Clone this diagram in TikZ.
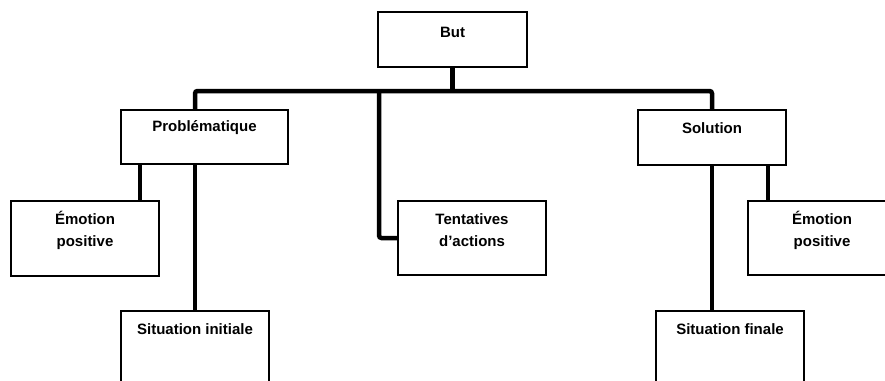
\documentclass[tikz,border=0pt]{standalone}
\usepackage{fontspec}
\setmainfont{Liberation Sans}
\begin{document}
\begin{tikzpicture}[x=1pt,y=-1pt,
  box/.style={draw=black, line width=1.3pt, fill=white, inner sep=0pt, minimum width=148pt},
  lbl/.style={font=\fontsize{15}{22}\selectfont\bfseries, align=center, inner sep=0pt},
  conn/.style={draw=black, line width=4.5pt, rounded corners=2.5pt}]
\path[use as bounding box, clip] (0,0) rectangle (885,380);
\fill[white] (0,0) rectangle (885,380);
% boxes
\node[box, minimum width=149pt, minimum height=55pt] (but) at (452.5,39.5) {};
\node[box, minimum width=167pt, minimum height=54pt] (prob) at (204.5,137) {};
\node[box, minimum height=55pt] (sol) at (712,137.5) {};
\node[box, minimum height=75pt] (emoL) at (85,238.5) {};
\node[box, minimum height=74pt] (tent) at (472,238) {};
\node[box, minimum height=74pt] (emoR) at (822,238) {};
\node[box, minimum height=74pt] (sitI) at (195,348) {};
\node[box, minimum height=74pt] (sitF) at (730,348) {};
% labels
\node[lbl] (butT) at ([yshift=-21pt]but.north) {But};
\node[lbl] (probT) at ([yshift=-18pt]prob.north) {Problématique};
\node[lbl] (solT) at ([yshift=-19pt]sol.north) {Solution};
\node[lbl] (emoLT) at ([yshift=-30pt]emoL.north) {Émotion\\positive};
\node[lbl] (tentT) at ([yshift=-30pt]tent.north) {Tentatives\\d'actions};
\node[lbl] (emoRT) at ([yshift=-30pt]emoR.north) {Émotion\\positive};
\node[lbl] (sitIT) at ([yshift=-19pt]sitI.north) {Situation initiale};
\node[lbl] (sitFT) at ([yshift=-19pt]sitF.north) {Situation finale};
% junctions
\coordinate (jL) at (195,91);
\coordinate (jR) at (712,91);
\coordinate (jM) at (379,91);
% connectors
\draw[conn] (but.south) -- (but.south |- jL);
\draw[conn] (prob.north -| jL) -- (jL) -- (jR) -- (sol.north);
\draw[conn] (jM) -- (jM |- tent.west) -- (tent.west);
\draw[conn] ([xshift=55pt]emoL.north) -- ([xshift=55pt]emoL.north |- prob.south);
\draw[conn] (sitI.north) -- (sitI.north |- prob.south);
\draw[conn] (sol.south) -- (sol.south |- sitF.north);
\draw[conn] ([xshift=-54pt]emoR.north) -- ([xshift=-54pt]emoR.north |- sol.south);
\end{tikzpicture}
\end{document}
